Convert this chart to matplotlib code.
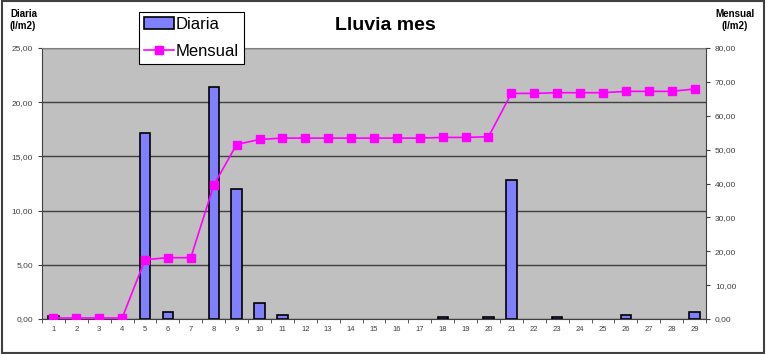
import numpy as np
import matplotlib
matplotlib.use("Agg")
import matplotlib.pyplot as plt
from matplotlib.ticker import FuncFormatter, FixedLocator

# Data
days = list(range(1, 30))
diaria = [0.3, 0, 0, 0, 17.2, 0.6, 0, 21.4, 12.0, 1.5, 0.4, 0, 0, 0, 0, 0, 0,
          0.2, 0, 0.2, 12.8, 0, 0.2, 0, 0, 0.4, 0, 0, 0.65]
mensual = [0.3, 0.3, 0.3, 0.3, 17.5, 18.1, 18.1, 39.5, 51.5, 53.0, 53.4, 53.4,
           53.4, 53.4, 53.4, 53.4, 53.4, 53.6, 53.6, 53.8, 66.6, 66.6, 66.8,
           66.8, 66.8, 67.2, 67.2, 67.2, 67.9]

plt.rcParams["font.family"] = ["Liberation Sans", "DejaVu Sans"]

fig = plt.figure(figsize=(7.66, 3.54), dpi=100)
ax = fig.add_axes([42 / 766, 1 - 319 / 354, (706 - 42) / 766, (319 - 48) / 354])
ax2 = ax.twinx()

ax.set_facecolor("#C0C0C0")
edges = ["black" if v > 0 else "none" for v in diaria]
ax.bar(days, diaria, width=0.45, color="#8080FF", edgecolor=edges,
       linewidth=1.2, label="Diaria", zorder=3)
ax2.plot(days, mensual, color="#FF00FF", marker="s", markersize=6,
         linewidth=1.2, label="Mensual", zorder=4)

ax.set_xlim(0.5, 29.5)
ax.set_ylim(0, 25)
ax2.set_ylim(0, 80)
ax.set_yticks(np.arange(0, 26, 5))
ax2.set_yticks(np.arange(0, 81, 10))
comma = FuncFormatter(lambda v, p: f"{v:.2f}".replace(".", ","))
ax.yaxis.set_major_formatter(comma)
ax2.yaxis.set_major_formatter(comma)
ax.grid(axis="y", color="#404040", linewidth=1.0, zorder=0)
ax.set_axisbelow(True)

ax.set_xticks(days)
ax.xaxis.set_minor_locator(FixedLocator(np.arange(0.5, 30, 1)))
ax.tick_params(axis="x", which="major", length=0, labelsize=5.5, pad=5)
ax.tick_params(axis="x", which="minor", length=3, color="#404040")
ax.tick_params(axis="y", labelsize=6, length=3, color="#404040", colors="#404040")
ax2.tick_params(axis="y", labelsize=6, length=3, color="#404040", colors="#404040")
ax.tick_params(axis="x", colors="#404040")

for a in (ax, ax2):
    for s in a.spines.values():
        s.set_visible(False)
ax.spines["left"].set_visible(True)
ax.spines["left"].set_color("#404040")
ax.spines["bottom"].set_visible(True)
ax.spines["bottom"].set_color("#404040")
ax2.spines["right"].set_visible(True)
ax2.spines["right"].set_color("#404040")
ax.spines["top"].set_visible(True)
ax.spines["top"].set_color("#808080")

fig.text(385 / 766, 1 - 26 / 354, "Lluvia mes", ha="center", va="center",
         fontsize=14, fontweight="bold")
fig.text(10 / 766, 1 - 20 / 354, "Diaria\n(l/m2)", ha="left", va="center",
         fontsize=7, fontweight="bold", linespacing=1.3)
fig.text(735 / 766, 1 - 20 / 354, "Mensual\n(l/m2)", ha="center", va="center",
         fontsize=7, fontweight="bold", linespacing=1.3)

h1, l1 = ax.get_legend_handles_labels()
h2, l2 = ax2.get_legend_handles_labels()
leg = fig.legend(h1 + h2, l1 + l2, loc="upper left",
                 bbox_to_anchor=(139 / 766, 1 - 12 / 354), borderaxespad=0,
                 fontsize=12, frameon=True, fancybox=False, edgecolor="black",
                 framealpha=1, borderpad=0.3, handlelength=1.8,
                 handletextpad=0.1, labelspacing=0.7)
leg.get_frame().set_linewidth(0.8)
leg.set_zorder(10)

# figure frame
fig.patches.append(plt.Rectangle((0.002, 0.003), 0.995, 0.993, fill=False,
                                 edgecolor="#404040", linewidth=1.5,
                                 transform=fig.transFigure, figure=fig))

fig.savefig("out.png", dpi=100)
